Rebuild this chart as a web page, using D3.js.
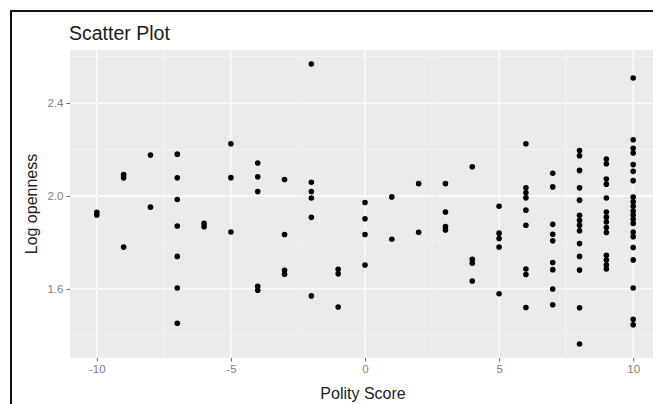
<!DOCTYPE html>
<html>
<head>
<meta charset="utf-8">
<script src="https://cdn.jsdelivr.net/npm/d3@7"></script>
<style>
  html, body { margin: 0; padding: 0; background: #fff; }
  svg { display: block; font-family: "Liberation Sans", Arial, sans-serif; }
</style>
</head>
<body>
<svg id="chart" width="653" height="404"></svg>
<script>
// ---- Data ----
const chartTitle = "Scatter Plot";
const xLabel = "Polity Score";
const yLabel = "Log openness";

const polityScore = [
  -10, -10,
  -9, -9, -9,
  -8, -8,
  -7, -7, -7, -7, -7, -7, -7,
  -6, -6,
  -5, -5, -5,
  -4, -4, -4, -4, -4,
  -3, -3, -3, -3,
  -2, -2, -2, -2, -2, -2,
  -1, -1, -1,
  0, 0, 0, 0,
  1, 1,
  2, 2,
  3, 3, 3, 3,
  4, 4, 4, 4,
  5, 5, 5, 5, 5,
  6, 6, 6, 6, 6, 6, 6, 6, 6,
  7, 7, 7, 7, 7, 7, 7, 7, 7,
  8, 8, 8, 8, 8, 8, 8, 8, 8, 8, 8, 8, 8, 8,
  9, 9, 9, 9, 9, 9, 9, 9, 9, 9, 9, 9, 9, 9,
  10, 10, 10, 10, 10, 10, 10, 10, 10, 10, 10, 10, 10, 10, 10, 10, 10, 10, 10, 10, 10
];
const logOpenness = [
  1.930, 1.918,
  2.092, 2.078, 1.780,
  2.176, 1.952,
  2.180, 2.078, 1.985, 1.871, 1.740, 1.604, 1.452,
  1.882, 1.868,
  2.225, 2.079, 1.845,
  2.142, 2.083, 2.019, 1.611, 1.594,
  2.071, 1.834, 1.680, 1.663,
  2.568, 2.059, 2.019, 1.991, 1.908, 1.570,
  1.685, 1.665, 1.522,
  1.972, 1.902, 1.834, 1.703,
  1.996, 1.814,
  2.053, 1.844,
  2.053, 1.931, 1.868, 1.854,
  2.126, 1.728, 1.711, 1.634,
  1.956, 1.840, 1.817, 1.780, 1.579,
  2.225, 2.035, 2.014, 1.992, 1.939, 1.874, 1.686, 1.662, 1.520,
  2.098, 2.039, 1.878, 1.835, 1.807, 1.714, 1.683, 1.600, 1.532,
  2.196, 2.173, 2.110, 2.035, 1.982, 1.917, 1.895, 1.874, 1.850, 1.795, 1.740, 1.681, 1.519, 1.363,
  2.159, 2.139, 2.073, 2.051, 1.991, 1.931, 1.909, 1.888, 1.864, 1.843, 1.745, 1.724, 1.703, 1.686,
  2.508, 2.242, 2.205, 2.185, 2.135, 2.106, 2.066, 1.995, 1.975, 1.956, 1.935, 1.918, 1.900, 1.882, 1.845, 1.825, 1.778, 1.725, 1.604, 1.469, 1.446
];
const xTicks = [-10, -5, 0, 5, 10];
const xMinor = [-7.5, -2.5, 2.5, 7.5];
const yTicks = [1.6, 2.0, 2.4];
const yMinor = [1.4, 1.8, 2.2, 2.6];

const points = polityScore.map((x, i) => ({ x, y: logOpenness[i] }));

// ---- Layout ----
const svg = d3.select("#chart");
const panel = { left: 70, right: 660, top: 50, bottom: 358 };

// ggplot-style 5% expansion
function expand(ext) {
  const d = (ext[1] - ext[0]) * 0.05;
  return [ext[0] - d, ext[1] + d];
}
const x = d3.scaleLinear().domain(expand(d3.extent(polityScore))).range([panel.left, panel.right]);
const y = d3.scaleLinear().domain(expand(d3.extent(logOpenness))).range([panel.bottom, panel.top]);

// frame (the reference is a cropped screenshot with a dark border)
svg.append("line").attr("x1", 11).attr("x2", 11).attr("y1", 10).attr("y2", 404)
  .attr("stroke", "#111").attr("stroke-width", 2);
svg.append("line").attr("x1", 10).attr("x2", 653).attr("y1", 11).attr("y2", 11)
  .attr("stroke", "#111").attr("stroke-width", 2);

// panel background
svg.append("rect")
  .attr("x", panel.left).attr("y", panel.top)
  .attr("width", panel.right - panel.left).attr("height", panel.bottom - panel.top)
  .attr("fill", "#EBEBEB");

const grid = svg.append("g");
// minor grid
grid.selectAll(".vminor").data(xMinor).join("line")
  .attr("x1", d => x(d)).attr("x2", d => x(d))
  .attr("y1", panel.top).attr("y2", panel.bottom)
  .attr("stroke", "#f7f7f7").attr("stroke-width", 0.7);
grid.selectAll(".hminor").data(yMinor).join("line")
  .attr("y1", d => y(d)).attr("y2", d => y(d))
  .attr("x1", panel.left).attr("x2", panel.right)
  .attr("stroke", "#f7f7f7").attr("stroke-width", 0.7);
// major grid
grid.selectAll(".vmajor").data(xTicks).join("line")
  .attr("x1", d => x(d)).attr("x2", d => x(d))
  .attr("y1", panel.top).attr("y2", panel.bottom)
  .attr("stroke", "#fff").attr("stroke-width", 1.3);
grid.selectAll(".hmajor").data(yTicks).join("line")
  .attr("y1", d => y(d)).attr("y2", d => y(d))
  .attr("x1", panel.left).attr("x2", panel.right)
  .attr("stroke", "#fff").attr("stroke-width", 1.3);

// points
svg.append("g").selectAll("circle").data(points).join("circle")
  .attr("cx", d => x(d.x)).attr("cy", d => y(d.y))
  .attr("r", 2.8).attr("fill", "#000");

// axes
const xAxis = d3.axisBottom(x).tickValues(xTicks).tickSize(3.5).tickPadding(3)
  .tickFormat(d => d < 0 ? "-" + Math.abs(d) : String(d));
const gx = svg.append("g").attr("transform", `translate(0,${panel.bottom})`).call(xAxis);
gx.select(".domain").remove();
gx.selectAll(".tick line").attr("stroke", "#666");
gx.selectAll(".tick text").attr("fill", "#808080").attr("font-size", 11.5)
  .attr("font-family", "Liberation Sans, Arial, sans-serif");

const yAxis = d3.axisLeft(y).tickValues(yTicks).tickSize(3.5).tickPadding(3)
  .tickFormat(d3.format(".1f"));
const gy = svg.append("g").attr("transform", `translate(${panel.left},0)`).call(yAxis);
gy.select(".domain").remove();
gy.selectAll(".tick line").attr("stroke", "#666");
gy.selectAll(".tick text").attr("fill", "#808080").attr("font-size", 11.5)
  .attr("font-family", "Liberation Sans, Arial, sans-serif");

// titles
svg.append("text").attr("x", panel.left - 1).attr("y", 40)
  .attr("font-size", 19.5).attr("fill", "#1a1a1a").text(chartTitle);
svg.append("text").attr("x", (panel.left + 658) / 2 - 1).attr("y", 399)
  .attr("text-anchor", "middle").attr("font-size", 16).attr("fill", "#222").text(xLabel);
svg.append("text")
  .attr("transform", `translate(37,${(panel.top + panel.bottom) / 2}) rotate(-90)`)
  .attr("text-anchor", "middle").attr("font-size", 16).attr("fill", "#222").text(yLabel);
</script>
</body>
</html>
